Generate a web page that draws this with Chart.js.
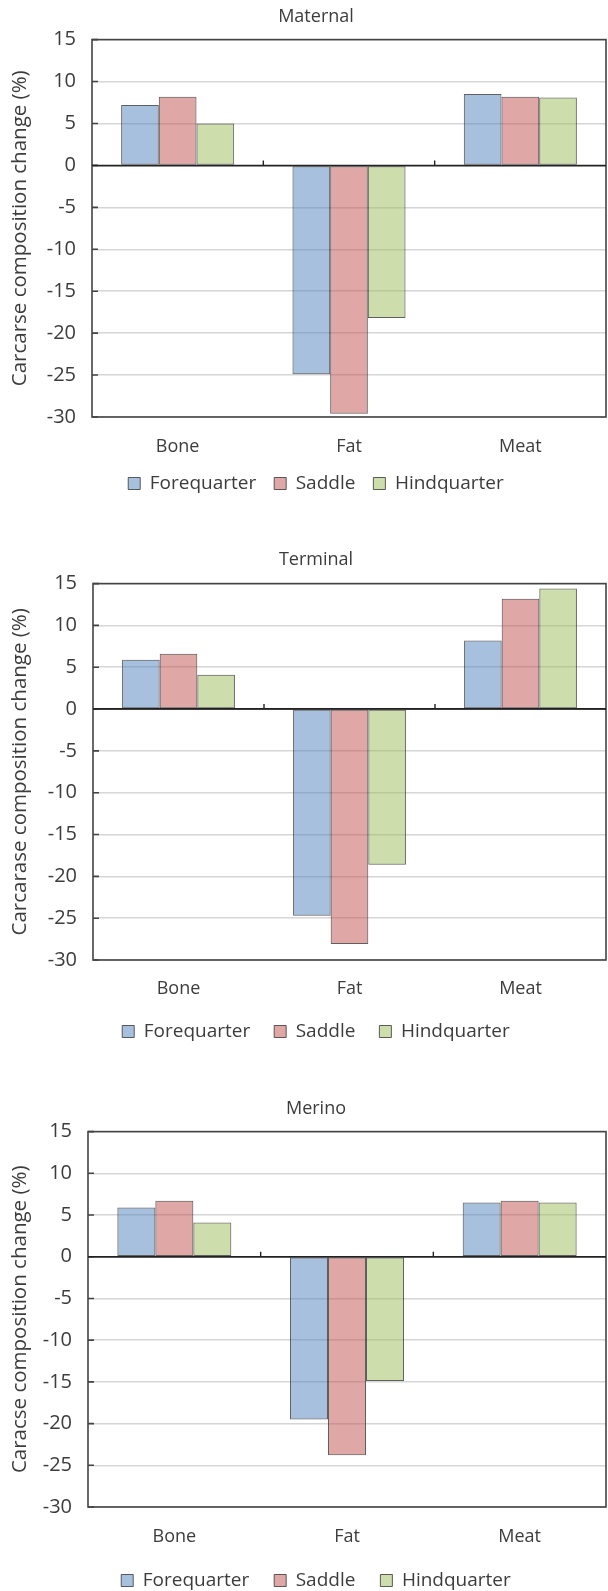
<!DOCTYPE html>
<html>
<head>
<meta charset="utf-8">
<script src="https://cdn.jsdelivr.net/npm/chart.js@4/dist/chart.umd.min.js"></script>
<style>
  body { margin: 0; background: #fff; width: 608px; height: 1591px; position: relative; overflow: hidden; }
  .box { position: absolute; left: 0; width: 608px; height: 520px; }
</style>
</head>
<body>
<div class="box" style="top:0"><canvas id="chart-maternal"></canvas></div>
<div class="box" style="top:543px"><canvas id="chart-terminal"></canvas></div>
<div class="box" style="top:1092px"><canvas id="chart-merino"></canvas></div>
<script>
/* carcase composition change — three grouped bar panels */

const CATEGORIES = ['Bone', 'Fat', 'Meat'];
const SERIES     = ['Forequarter', 'Saddle', 'Hindquarter'];
const Y_TICKS    = [15, 10, 5, 0, -5, -10, -15, -20, -25, -30];

const MATERNAL_FORE   = [7.2, -24.9, 8.5];
const MATERNAL_SADDLE = [8.2, -29.6, 8.2];
const MATERNAL_HIND   = [5.0, -18.2, 8.1];

const TERMINAL_FORE   = [5.9, -24.7, 8.2];
const TERMINAL_SADDLE = [6.6, -28.1, 13.2];
const TERMINAL_HIND   = [4.1, -18.6, 14.4];

const MERINO_FORE     = [5.9, -19.5, 6.5];
const MERINO_SADDLE   = [6.7, -23.8, 6.7];
const MERINO_HIND     = [4.1, -14.9, 6.5];

const FILLS = ['rgba(79,129,189,0.5)', 'rgba(192,80,77,0.5)', 'rgba(155,187,89,0.5)'];
const FONT  = "'Open Sans', 'Noto Sans', sans-serif";
const INK   = '#3c3c3c';
const PAD_L = 26;

// plot frame, inward y ticks, zero line with small ticks between categories
const framePlugin = {
  id: 'frame',
  afterDatasetsDraw(chart) {
    const { ctx, chartArea: a, scales: { x, y } } = chart;
    ctx.save();
    ctx.strokeStyle = '#444';
    ctx.lineWidth = 1.6;
    ctx.strokeRect(a.left, a.top, a.right - a.left, a.bottom - a.top);
    ctx.beginPath();
    y.ticks.forEach(t => {
      const py = y.getPixelForValue(t.value);
      ctx.moveTo(a.left, py); ctx.lineTo(a.left + 6, py);
    });
    ctx.stroke();
    const y0 = y.getPixelForValue(0);
    ctx.strokeStyle = '#222';
    ctx.lineWidth = 1.4;
    ctx.beginPath();
    ctx.moveTo(a.left, y0); ctx.lineTo(a.right, y0);
    for (let i = 0; i < CATEGORIES.length - 1; i++) {
      const bx = (x.getPixelForValue(i) + x.getPixelForValue(i + 1)) / 2;
      ctx.moveTo(bx, y0); ctx.lineTo(bx, y0 - 5);
    }
    ctx.stroke();
    ctx.restore();
  },
};

function drawPanel(id, title, yLabel, fore, saddle, hind, opts) {
  const values = [fore, saddle, hind];
  new Chart(document.getElementById(id), {
    type: 'bar',
    data: {
      labels: CATEGORIES,
      datasets: SERIES.map((name, i) => ({
        label: name,
        data: values[i],
        backgroundColor: FILLS[i],
        borderColor: 'rgba(55,55,55,0.8)',
        borderWidth: 1,
        borderSkipped: false,
        categoryPercentage: 0.66,
        barPercentage: 1.0,
      })),
    },
    options: {
      responsive: true,
      maintainAspectRatio: false,
      animation: false,
      layout: { padding: { left: PAD_L, right: 2, top: 0, bottom: opts.bottom } },
      plugins: {
        title: {
          display: true, text: title, color: INK,
          font: { family: FONT, size: 18, weight: 'normal' },
          padding: { top: 6, bottom: opts.titleGap },
        },
        legend: {
          position: 'bottom',
          labels: {
            color: INK, font: { family: FONT, size: 19 },
            boxWidth: 12, boxHeight: 12, padding: opts.legendPad,
          },
        },
        tooltip: { enabled: false },
      },
      scales: {
        x: {
          afterFit: s => { s.height = opts.xHeight; },
          grid: { display: false, drawTicks: false },
          border: { display: false },
          ticks: { color: INK, font: { family: FONT, size: 18, lineHeight: 1 }, padding: opts.xPad },
        },
        y: {
          min: -30, max: 15,
          afterBuildTicks: s => { s.ticks = Y_TICKS.map(v => ({ value: v })); },
          afterFit: s => { s.width = opts.left - PAD_L; },
          grid: {
            color: c => c.tick && c.tick.value === 0 ? '#222' : '#d6d6d6',
            lineWidth: 1.5, drawTicks: false,
          },
          border: { display: false },
          ticks: { color: INK, font: { family: FONT, size: 20 }, padding: 16 },
          title: {
            display: true, text: yLabel, color: INK,
            font: { family: FONT, size: 20.5 }, padding: { top: -18, bottom: 0 },
          },
        },
      },
    },
    plugins: [framePlugin],
  });
}

drawPanel('chart-maternal', 'Maternal', 'Carcarse composition change (%)',
  MATERNAL_FORE, MATERNAL_SADDLE, MATERNAL_HIND,
  { left: 92, titleGap: 12, xPad: 21, xHeight: 39, legendPad: 18, bottom: 17 });
drawPanel('chart-terminal', 'Terminal', 'Carcarase composition change (%)',
  TERMINAL_FORE, TERMINAL_SADDLE, TERMINAL_HIND,
  { left: 93, titleGap: 13, xPad: 20, xHeight: 38, legendPad: 24, bottom: 12 });
drawPanel('chart-merino', 'Merino', 'Caracse composition change (%)',
  MERINO_FORE, MERINO_SADDLE, MERINO_HIND,
  { left: 88, titleGap: 12, xPad: 21, xHeight: 39, legendPad: 25, bottom: 12 });
</script>
</body>
</html>
